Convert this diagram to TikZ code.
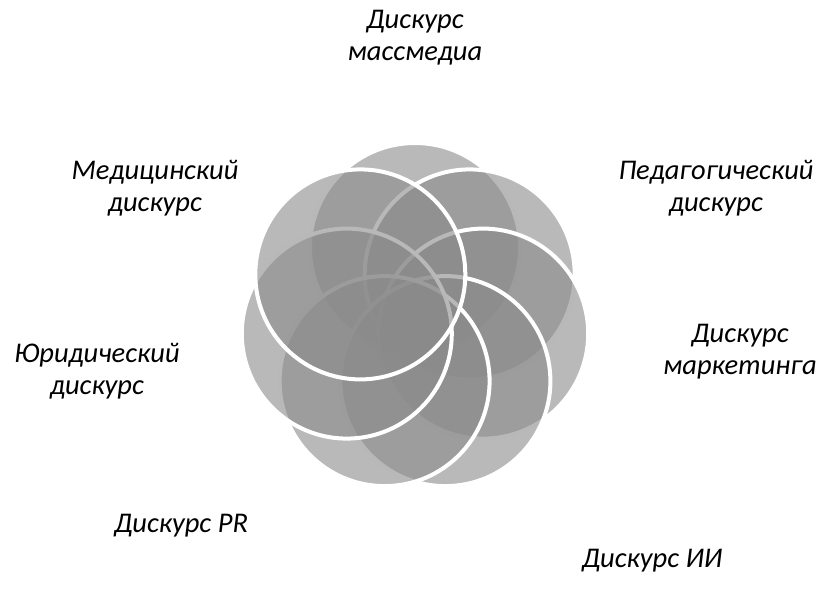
\documentclass[tikz,border=0pt]{standalone}
\usepackage{fontspec}
\setmainfont{Carlito}
\usepackage{tikz}
\definecolor{discgray}{RGB}{138,138,138}

\begin{document}
\begin{tikzpicture}[
        x=1pt, y=-1pt,
        disc/.style={circle, minimum size=210pt, inner sep=0pt, fill=discgray,
            fill opacity=0.6, draw=white, line width=4pt},
        lbl/.style={align=center, font=\fontsize{28.5}{32}\selectfont\itshape}]
    \useasboundingbox (0,0) rectangle (822,599);

    % rosette, drawn in turn so each circle lies over the one before
    \node[disc] (media) at (415.0,248.0) {};
    \node[disc] (ped) at (469.7,274.4) {};
    \node[disc] (mkt) at (483.2,333.6) {};
    \node[disc] (ai) at (445.4,381.1) {};
    \node[disc] (pr) at (384.6,381.1) {};
    \node[disc] (law) at (346.8,333.6) {};
    \node[disc] (med) at (360.3,274.4) {};

    % captions
    \node[lbl] (mediaLbl) at (415,38) {Дискурс\\массмедиа};
    \node[lbl] (medLbl) at (155,188) {Медицинский\\дискурс};
    \node[lbl] (pedLbl) at (716,188) {Педагогический\\дискурс};
    \node[lbl] (lawLbl) at (97,371) {Юридический\\дискурс};
    \node[lbl] (mktLbl) at (740,352) {Дискурс\\маркетинга};
    \node[lbl] (prLbl) at (181,526) {Дискурс PR};
    \node[lbl] (aiLbl) at (652,561) {Дискурс ИИ};

\end{tikzpicture}
\end{document}
